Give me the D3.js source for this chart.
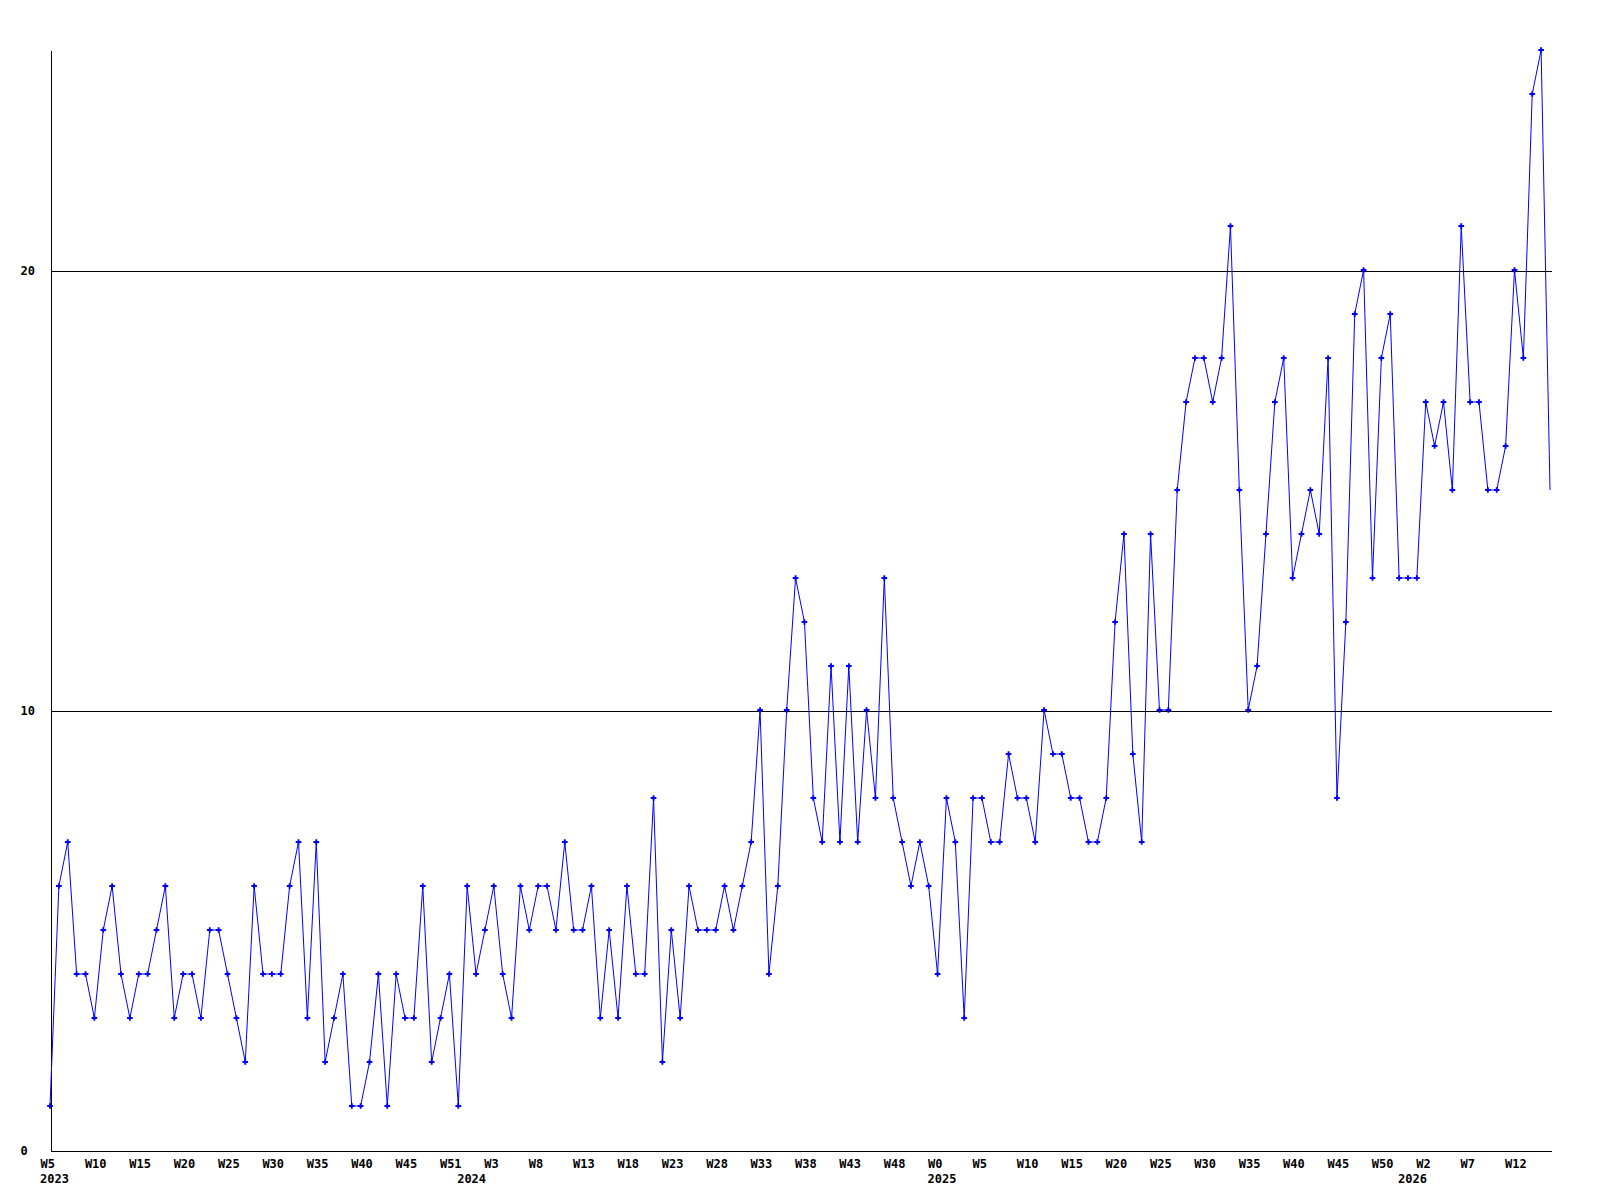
<!DOCTYPE html>
<html>
<head>
<meta charset="utf-8">
<script src="https://cdn.jsdelivr.net/npm/d3@7"></script>
<style>
  html, body { margin: 0; padding: 0; background: #fff; }
  svg { display: block; }
  text { font-family: "DejaVu Sans Mono", monospace; font-weight: bold; font-size: 12px; fill: #000; }
</style>
</head>
<body>
<svg id="chart" width="1600" height="1200"></svg>
<script>
// Weekly values, 2023 W5 .. 2026 W14 (one per week)
const values = [
  1,6,7,4,4,3,5,6,4,3,
  4,4,5,6,3,4,4,3,5,5,
  4,3,2,6,4,4,4,6,7,3,
  7,2,3,4,1,1,2,4,1,4,
  3,3,6,2,3,4,1,6,4,5,
  6,4,3,6,5,6,6,5,7,5,
  5,6,3,5,3,6,4,4,8,2,
  5,3,6,5,5,5,6,5,6,7,
  10,4,6,10,13,12,8,7,11,7,
  11,7,10,8,13,8,7,6,7,6,
  4,8,7,3,8,8,7,7,9,8,
  8,7,10,9,9,8,8,7,7,8,
  12,14,9,7,14,10,10,15,17,18,
  18,17,18,21,15,10,11,14,17,18,
  13,14,15,14,18,8,12,19,20,13,
  18,19,13,13,13,17,16,17,15,21,
  17,17,15,15,16,20,18,24,25,15
];

// Tick labels, one every 5 weeks
const weekLabels = [
  "W5","W10","W15","W20","W25","W30","W35","W40","W45","W51",
  "W3","W8","W13","W18","W23","W28","W33","W38","W43","W48",
  "W0","W5","W10","W15","W20","W25","W30","W35","W40","W45","W50",
  "W2","W7","W12"
];
// Year labels, placed at the first week of each year
const yearLabels = ["2023", "2024", "2025", "2026"];
const yearIndex = [0, 47, 100, 153];
const tickIndex = weekLabels.map((_, k) => k * 5);
const yTicks = [0, 10, 20];

(function () {
const svg = d3.select("#chart");
const mLeft = 50, mRight = 1550, mTop = 50, mBottom = 1150;

const x = d3.scaleLinear().domain([0, values.length - 1]).range([mLeft, mRight]);
const y = d3.scaleLinear().domain([0, 25]).range([mBottom, mTop]);

// Y axis with gridlines
const yAxis = d3.axisLeft(y)
  .tickValues(yTicks)
  .tickSizeInner(-(mRight - mLeft + 1))
  .tickSizeOuter(0)
  .tickFormat(d3.format("d"));

const gy = svg.append("g")
  .attr("transform", `translate(${mLeft + 0.5},0.5)`)
  .attr("shape-rendering", "crispEdges")
  .call(yAxis);
gy.select(".domain").attr("stroke", "#000").attr("stroke-width", 1);
gy.selectAll(".tick line").attr("stroke", "#000").attr("stroke-width", 1);
gy.selectAll(".tick text")
  .attr("x", -30)
  .attr("dy", "0.32em")
  .attr("text-anchor", "start");

// X axis
const xAxis = d3.axisBottom(x)
  .tickValues(tickIndex)
  .tickSize(0)
  .tickFormat((d, k) => weekLabels[k]);

const gx = svg.append("g")
  .attr("transform", `translate(0.5,${mBottom + 0.5})`)
  .attr("shape-rendering", "crispEdges")
  .call(xAxis);
gx.select(".domain").attr("stroke", "#000").attr("stroke-width", 1);
gx.selectAll(".tick text")
  .attr("x", -10.5)
  .attr("y", 17.5)
  .attr("dy", 0)
  .attr("text-anchor", "start");

// Year labels
svg.append("g")
  .selectAll("text")
  .data(yearLabels)
  .join("text")
  .attr("x", (d, k) => x(yearIndex[k]) - 10)
  .attr("y", mBottom + 33)
  .attr("text-anchor", "start")
  .text(d => d);

// Line
const line = d3.line()
  .x((d, i) => x(i))
  .y(d => y(d));

svg.append("path")
  .datum(values)
  .attr("fill", "none")
  .attr("stroke", "#0000ff")
  .attr("stroke-width", 1)
  .attr("d", line);

// Markers (the last point sits on the right edge without a marker)
const sym = d3.symbol().type(d3.symbolCross).size(18);
svg.append("g")
  .selectAll("path")
  .data(values.slice(0, values.length - 1))
  .join("path")
  .attr("transform", (d, i) => `translate(${x(i)},${y(d)})`)
  .attr("fill", "#0000ff")
  .attr("d", sym);
})();
</script>
</body>
</html>
